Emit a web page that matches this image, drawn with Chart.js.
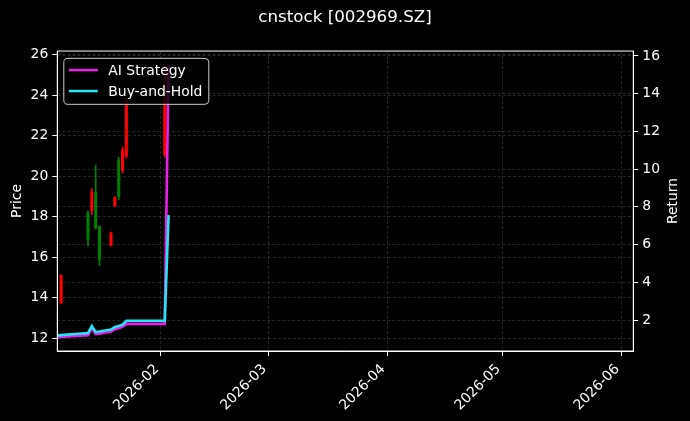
<!DOCTYPE html>
<html>
<head>
<meta charset="utf-8">
<script src="https://cdn.jsdelivr.net/npm/chart.js@4.4.1/dist/chart.umd.min.js"></script>
<style>
  html, body { margin: 0; padding: 0; background: #000; }
  canvas { display: block; }
</style>
</head>
<body>
<canvas id="chart" width="690" height="421"></canvas>
<script>
// daily candles, red = up, green = down
const candleDates = ["2026-01-06", "2026-01-13", "2026-01-14", "2026-01-15", "2026-01-16",
  "2026-01-19", "2026-01-20", "2026-01-21", "2026-01-22", "2026-01-23", "2026-02-02"];
const opens  = [13.75, 18.20, 18.30, 19.20, 17.50, 16.60, 18.55, 20.80, 20.30, 21.00, 21.10];
const highs  = [15.15, 18.30, 19.40, 20.55, 17.55, 17.25, 19.00, 20.95, 21.45, 23.80, 25.50];
const lows   = [13.70, 16.55, 18.10, 17.40, 15.60, 16.55, 18.50, 18.85, 20.15, 20.90, 20.95];
const closes = [15.10, 16.90, 19.20, 17.45, 15.90, 17.20, 18.95, 19.00, 21.30, 23.50, 23.90];

// equity curves (right axis)
const curveDates = ["2026-01-05", "2026-01-06", "2026-01-13", "2026-01-14", "2026-01-15", "2026-01-16",
  "2026-01-19", "2026-01-20", "2026-01-21", "2026-01-22", "2026-01-23", "2026-02-02", "2026-02-03"];
const aiStrategy = [1.08, 1.10, 1.20, 1.57, 1.25, 1.28, 1.39, 1.52, 1.57, 1.65, 1.80, 1.80, 15.53];
const buyHold    = [1.18, 1.20, 1.31, 1.68, 1.36, 1.39, 1.50, 1.63, 1.68, 1.76, 1.96, 1.96, 7.57];

const xRange = ["2026-01-05", "2026-06-04"];
const monthTicks = ["2026-02-01", "2026-03-01", "2026-04-01", "2026-05-01", "2026-06-01"];
const monthLabels = ["2026-02", "2026-03", "2026-04", "2026-05", "2026-06"];
const priceTicks = [12, 14, 16, 18, 20, 22, 24, 26];
const returnTicks = [2, 4, 6, 8, 10, 12, 14, 16];

const day0 = Date.UTC(2026, 0, 1);
const toDay = s => (Date.parse(s) - day0) / 86400000;

const font = { family: "DejaVu Sans", size: 13.9 };
const gridColor = "rgba(255,255,255,0.18)";
const candleColors = opens.map((o, i) => closes[i] >= o ? "#ff0000" : "#008000");

const blackBg = {
  id: "blackBg",
  beforeDraw(chart) {
    const c = chart.ctx;
    c.save();
    c.fillStyle = "#000";
    c.fillRect(0, 0, chart.width, chart.height);
    c.restore();
  }
};

// frame, right axis label and the legend inside the plot
const frameLegend = {
  id: "frameLegend",
  afterDraw(chart) {
    const c = chart.ctx, a = chart.chartArea;
    c.save();
    c.strokeStyle = "#fff";
    c.lineWidth = 1;
    c.strokeRect(a.left, a.top, a.right - a.left, a.bottom - a.top);

    // "Return" reads bottom-to-top like the left label
    c.save();
    c.translate(673, (a.top + a.bottom) / 2);
    c.rotate(-Math.PI / 2);
    c.font = "13.9px 'DejaVu Sans'";
    c.fillStyle = "#fff";
    c.textAlign = "center";
    c.textBaseline = "middle";
    c.fillText("Return", 0, 0);
    c.restore();

    const x = a.left + 6.5, y = a.top + 7.3, w = 145, h = 46;
    c.beginPath();
    if (c.roundRect) c.roundRect(x, y, w, h, 4); else c.rect(x, y, w, h);
    c.fillStyle = "rgba(0,0,0,0.8)";
    c.fill();
    c.strokeStyle = "#cccccc";
    c.stroke();

    c.font = "13.9px 'DejaVu Sans'";
    c.textBaseline = "middle";
    chart.data.datasets.filter(d => d.type === "line").forEach((d, i) => {
      const ly = y + 11.7 + i * 21;
      c.strokeStyle = d.borderColor;
      c.lineWidth = 2.5;
      c.beginPath();
      c.moveTo(x + 5, ly);
      c.lineTo(x + 34, ly);
      c.stroke();
      c.fillStyle = "#fff";
      c.fillText(d.label, x + 44.5, ly + 1);
    });
    c.restore();
  }
};

const ctx = document.getElementById("chart").getContext("2d");

new Chart(ctx, {
  type: "line",
  data: {
    datasets: [
      {
        type: "line",
        label: "AI Strategy",
        data: curveDates.map((d, i) => ({ x: toDay(d), y: aiStrategy[i] })),
        yAxisID: "yRet",
        borderColor: "#ea1eea",
        borderWidth: 2.6,
        pointRadius: 0,
        tension: 0,
        order: 1
      },
      {
        type: "line",
        label: "Buy-and-Hold",
        data: curveDates.map((d, i) => ({ x: toDay(d), y: buyHold[i] })),
        yAxisID: "yRet",
        borderColor: "#22e6f0",
        borderWidth: 2.6,
        pointRadius: 0,
        tension: 0,
        order: 0
      },
      {
        type: "bar",
        label: "body",
        data: candleDates.map((d, i) => ({ x: toDay(d), y: [opens[i], closes[i]] })),
        yAxisID: "y",
        backgroundColor: candleColors,
        barThickness: 2.4,
        grouped: false,
        order: 2
      },
      {
        type: "bar",
        label: "wick",
        data: candleDates.map((d, i) => ({ x: toDay(d), y: [lows[i], highs[i]] })),
        yAxisID: "y",
        backgroundColor: candleColors,
        barThickness: 1,
        grouped: false,
        order: 3
      }
    ]
  },
  options: {
    responsive: false,
    maintainAspectRatio: false,
    devicePixelRatio: 1,
    animation: false,
    events: [],
    layout: { padding: 0 },
    plugins: {
      legend: { display: false },
      tooltip: { enabled: false },
      title: {
        display: true,
        text: "cnstock [002969.SZ]",
        color: "#fff",
        font: { family: "DejaVu Sans", size: 16.7, weight: "normal" },
        padding: { top: 8, bottom: 23 }
      }
    },
    scales: {
      x: {
        type: "linear",
        min: toDay(xRange[0]),
        max: toDay(xRange[1]) + 0.1,
        offset: false,
        grid: { color: gridColor, lineWidth: 0.8, tickColor: "#fff", tickLength: 5, tickWidth: 1, offset: false },
        border: { color: "#fff", width: 1, dash: [3, 2] },
        ticks: {
          color: "#fff", font, minRotation: 45, maxRotation: 45, padding: 5, labelOffset: -4, autoSkip: false,
          callback: v => monthLabels[monthTicks.map(toDay).indexOf(v)] || ""
        },
        afterBuildTicks: s => { s.ticks = monthTicks.map(d => ({ value: toDay(d) })); },
        afterFit: s => { s.height = 70; }
      },
      y: {
        position: "left",
        min: 11.37,
        max: 26.19,
        grid: { color: gridColor, lineWidth: 0.8, tickColor: "#fff", tickLength: 5, tickWidth: 1 },
        border: { color: "#fff", width: 1, dash: [3, 2] },
        ticks: { color: "#fff", font, padding: 4 },
        title: { display: true, text: "Price", color: "#fff", font, padding: { top: 9, bottom: 0 } },
        afterBuildTicks: s => { s.ticks = priceTicks.map(v => ({ value: v })); },
        afterFit: s => { s.width = 57.3; }
      },
      yRet: {
        position: "right",
        min: 0.36,
        max: 16.26,
        grid: { color: gridColor, lineWidth: 0.8, tickColor: "#fff", tickLength: 5, tickWidth: 1 },
        border: { color: "#fff", width: 1, dash: [3, 2] },
        ticks: { color: "#fff", font, padding: 4 },
        afterBuildTicks: s => { s.ticks = returnTicks.map(v => ({ value: v })); },
        afterFit: s => { s.width = 56.7; }
      }
    }
  },
  plugins: [blackBg, frameLegend]
});
</script>
</body>
</html>
